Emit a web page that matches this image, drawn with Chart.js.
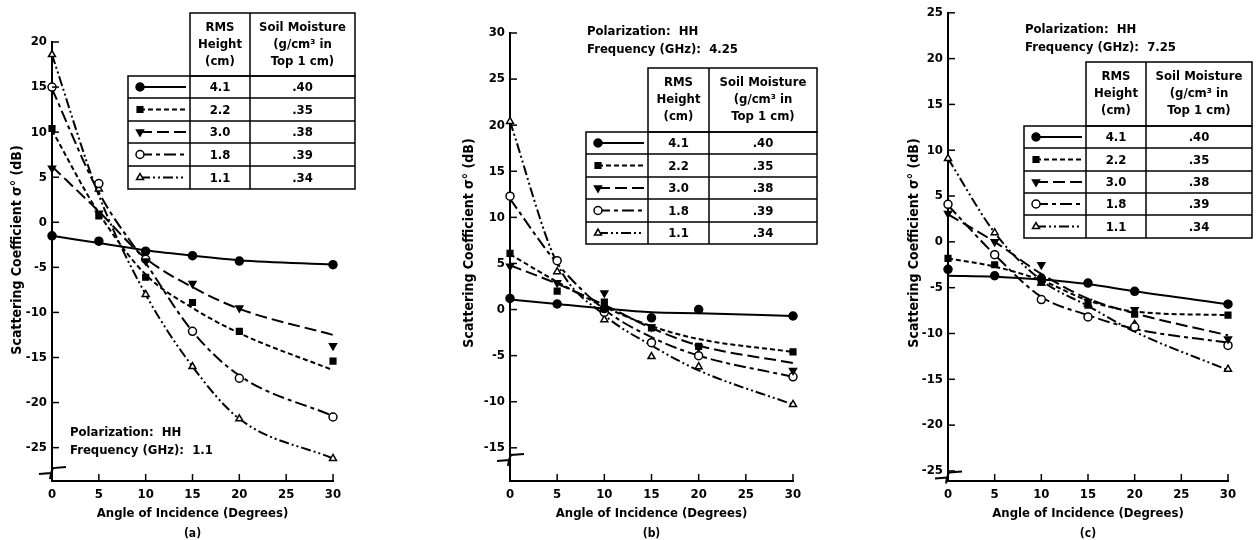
<!DOCTYPE html>
<html>
<head>
<meta charset="utf-8">
<script src="https://cdn.jsdelivr.net/npm/chart.js@4.4.1/dist/chart.umd.min.js"></script>
<style>
html, body { margin: 0; padding: 0; background: #fff; }
#wrap { position: relative; width: 1256px; height: 540px; overflow: hidden; }
.panel { position: absolute; top: 0; }
</style>
</head>
<body>
<div id="wrap">
  <div class="panel" style="left:0px"><canvas id="chartA" width="420" height="540"></canvas></div>
  <div class="panel" style="left:420px"><canvas id="chartB" width="420" height="540"></canvas></div>
  <div class="panel" style="left:840px"><canvas id="chartC" width="416" height="540"></canvas></div>
</div>
<script>
// angles where the measurements were taken
const angles = [0, 5, 10, 15, 20, 30];
const xTicks = [0, 5, 10, 15, 20, 25, 30];

// legend table
const rmsHeight    = ['4.1', '2.2', '3.0', '1.8', '1.1'];
const soilMoisture = ['.40', '.35', '.38', '.39', '.34'];

// (a) 1.1 GHz  -- markers and the drawn curves
const a41pts = [-1.5, -2.1, -3.2, -3.7, -4.3, -4.7];
const a41fit = [-1.5, -2.3, -3.1, -3.7, -4.2, -4.7];
const a22pts = [10.4, 0.7, -6.1, -8.9, -12.1, -15.4];
const a22fit = [10.2, 1.0, -5.8, -9.5, -12.3, -16.4];
const a30pts = [6.0, 1.0, -4.3, -6.8, -9.5, -13.7];
const a30fit = [6.2, 1.2, -4.0, -7.2, -9.6, -12.5];
const a18pts = [15.0, 4.3, -4.1, -12.1, -17.3, -21.6];
const a18fit = [14.8, 3.3, -4.5, -12.1, -17.0, -21.5];
const a11pts = [18.6, 3.7, -8.0, -16.0, -21.8, -26.2];
const a11fit = [18.6, 3.0, -8.0, -16.0, -21.8, -26.2];

// (b) 4.25 GHz
const b41pts = [1.2, 0.6, 0.1, -0.9, 0.0, -0.7];
const b41fit = [1.1, 0.6, 0.1, -0.3, -0.4, -0.7];
const b22pts = [6.1, 2.0, 0.8, -2.0, -4.0, -4.6];
const b22fit = [6.0, 3.0, 0.3, -1.8, -3.2, -4.6];
const b30pts = [4.7, 2.9, 1.8, -1.9, -4.1, -6.6];
const b30fit = [4.8, 2.8, 0.5, -2.0, -3.9, -5.8];
const b18pts = [12.3, 5.3, -0.3, -3.6, -5.0, -7.3];
const b18fit = [12.0, 5.0, 0.0, -3.0, -5.0, -7.3];
const b11pts = [20.4, 4.1, -1.1, -5.1, -6.2, -10.3];
const b11fit = [20.4, 5.0, -0.6, -3.9, -6.6, -10.3];

// (c) 7.25 GHz
const c41pts = [-3.0, -3.7, -4.0, -4.5, -5.4, -6.8];
const c41fit = [-3.7, -3.8, -4.1, -4.6, -5.4, -6.8];
const c22pts = [-1.8, -2.5, -4.4, -6.9, -7.9, -8.0];
const c22fit = [-1.8, -2.7, -4.2, -6.4, -7.6, -8.0];
const c30pts = [3.1, 0.0, -2.5, -6.5, -7.4, -10.6];
const c30fit = [3.0, 0.0, -3.5, -6.2, -7.8, -10.2];
const c18pts = [4.1, -1.4, -6.3, -8.2, -9.3, -11.3];
const c18fit = [4.0, -1.4, -6.0, -8.0, -9.5, -11.0];
const c11pts = [9.1, 1.0, -4.5, -6.8, -9.0, -13.9];
const c11fit = [9.1, 1.0, -4.2, -7.0, -9.8, -14.0];

const FONT = "'DejaVu Sans Condensed', 'Liberation Sans Narrow', sans-serif";

// marker / line style of each surface, in legend order
const SERIES = [
    { style: 'circle',   rot: 0,   fill: '#000', dash: [] },
    { style: 'rect',     rot: 0,   fill: '#000', dash: [5, 3] },
    { style: 'triangle', rot: 180, fill: '#000', dash: [12, 5] },
    { style: 'circle',   rot: 0,   fill: '#fff', dash: [12, 4, 4, 4] },
    { style: 'triangle', rot: 0,   fill: '#fff', dash: [10, 3, 2, 3, 2, 3] }
];

const panels = [
    {
        id: 'chartA', off: 0, w: 420,
        area: { left: 52, right: 333, top: 42, bottom: 481 },
        yMin: -28.7, yMax: 20,
        pts: [a41pts, a22pts, a30pts, a18pts, a11pts],
        fit: [a41fit, a22fit, a30fit, a18fit, a11fit],
        table: { cols: [128, 190, 250, 355], top: 13, rows: [76, 98, 121, 143, 166, 189] },
        note: { x: 70, y: 433 }, freq: '1.1',
        yTitleX: 17, yTitleY: 250, caption: '(a)', breakAt: -27.6
    },
    {
        id: 'chartB', off: 420, w: 420,
        area: { left: 510, right: 793, top: 33, bottom: 481 },
        yMin: -18.6, yMax: 30,
        pts: [b41pts, b22pts, b30pts, b18pts, b11pts],
        fit: [b41fit, b22fit, b30fit, b18fit, b11fit],
        table: { cols: [586, 648, 709, 817], top: 68, rows: [132, 154, 177, 199, 222, 244] },
        note: { x: 587, y: 32 }, freq: '4.25',
        yTitleX: 469, yTitleY: 243, caption: '(b)', breakAt: -16.1
    },
    {
        id: 'chartC', off: 840, w: 416,
        area: { left: 948, right: 1228, top: 10, bottom: 481 },
        yMin: -26.1, yMax: 25,
        pts: [c41pts, c22pts, c30pts, c18pts, c11pts],
        fit: [c41fit, c22fit, c30fit, c18fit, c11fit],
        table: { cols: [1024, 1086, 1146, 1252], top: 62, rows: [126, 148, 171, 193, 215, 238] },
        note: { x: 1025, y: 30 }, freq: '7.25',
        yTitleX: 914, yTitleY: 243, caption: '(c)', breakAt: -25.5
    }
];

const Y_AXIS_W = 46;
const X_AXIS_H = 24;

function line(ctx, x1, y1, x2, y2) {
    ctx.beginPath();
    ctx.moveTo(x1, y1);
    ctx.lineTo(x2, y2);
    ctx.stroke();
}

function drawTable(ctx, p) {
    const t = p.table;
    const [x0, x1, x2, x3] = t.cols.map(v => v - p.off);
    const r = t.rows;
    const last = r[r.length - 1];
    ctx.lineWidth = 1.5;
    ctx.setLineDash([]);
    ctx.strokeRect(x1, t.top, x3 - x1, r[0] - t.top);
    line(ctx, x2, t.top, x2, r[0]);
    ctx.strokeRect(x0, r[0], x3 - x0, last - r[0]);
    for (let i = 1; i < r.length - 1; i++) line(ctx, x0, r[i], x3, r[i]);
    line(ctx, x1, r[0], x1, last);
    line(ctx, x2, r[0], x2, last);

    ctx.font = 'bold 13px ' + FONT;
    ctx.textAlign = 'center';
    ctx.textBaseline = 'middle';
    const hx1 = (x1 + x2) / 2, hx2 = (x2 + x3) / 2;
    ctx.fillText('RMS', hx1, t.top + 15);
    ctx.fillText('Height', hx1, t.top + 32);
    ctx.fillText('(cm)', hx1, t.top + 49);
    ctx.fillText('Soil Moisture', hx2, t.top + 15);
    ctx.fillText('(g/cm³ in', hx2, t.top + 32);
    ctx.fillText('Top 1 cm)', hx2, t.top + 49);

    SERIES.forEach((s, i) => {
        const yc = (r[i] + r[i + 1]) / 2;
        ctx.lineWidth = 2;
        ctx.setLineDash(s.dash);
        line(ctx, x0 + 12, yc, x1 - 4, yc);
        ctx.setLineDash([]);
        ctx.lineWidth = 1.5;
        ctx.fillStyle = s.fill;
        Chart.helpers.drawPoint(ctx, { pointStyle: s.style, rotation: s.rot, radius: 4, borderWidth: 1.5 }, x0 + 12, yc);
        ctx.fillStyle = '#000';
        ctx.fillText(rmsHeight[i], hx1, yc + 1);
        ctx.fillText(soilMoisture[i], hx2, yc + 1);
    });
}

const decor = {
    id: 'decor',
    afterDraw(chart, args, opts) {
        const p = opts.panel;
        const ctx = chart.ctx;
        const xs = chart.scales.x, ys = chart.scales.y;
        const a = chart.chartArea;
        ctx.save();
        ctx.strokeStyle = '#000';
        ctx.fillStyle = '#000';
        ctx.lineWidth = 1.5;

        // tick marks point into the plot
        ys.ticks.forEach(t => {
            const y = ys.getPixelForValue(t.value);
            line(ctx, a.left, y, a.left + 7, y);
        });
        xs.ticks.forEach(t => {
            if (t.value === 0) return;
            const x = xs.getPixelForValue(t.value);
            line(ctx, x, a.bottom, x, a.bottom - 7);
        });

        // axis break
        const by = ys.getPixelForValue(p.breakAt);
        ctx.lineWidth = 2;
        ctx.beginPath();
        ctx.moveTo(a.left - 13, by + 3);
        ctx.lineTo(a.left - 1, by + 2);
        ctx.lineTo(a.left + 1, by - 3);
        ctx.lineTo(a.left + 14, by - 4);
        ctx.stroke();
        ctx.beginPath();
        ctx.moveTo(a.left - 1, by + 2);
        ctx.lineTo(a.left - 2, by + 8);
        ctx.stroke();

        // axis titles and caption
        ctx.font = 'bold 13px ' + FONT;
        ctx.textAlign = 'center';
        ctx.textBaseline = 'middle';
        const cx = (a.left + a.right) / 2;
        ctx.fillText('Angle of Incidence (Degrees)', cx, 514);
        ctx.font = 'bold 12px ' + FONT;
        ctx.fillText(p.caption, cx, 534);

        ctx.save();
        ctx.font = 'bold 14px ' + FONT;
        ctx.translate(p.yTitleX - p.off, p.yTitleY);
        ctx.rotate(-Math.PI / 2);
        ctx.fillText('Scattering Coefficient σ° (dB)', 0, 0);
        ctx.restore();

        // polarization note
        ctx.font = 'bold 13px ' + FONT;
        ctx.textAlign = 'left';
        ctx.fillText('Polarization:  HH', p.note.x - p.off, p.note.y);
        ctx.fillText('Frequency (GHz):  ' + p.freq, p.note.x - p.off, p.note.y + 18);

        drawTable(ctx, p);
        ctx.restore();
    }
};

function toXY(vals) {
    return vals.map((v, i) => ({ x: angles[i], y: v }));
}

panels.forEach(p => {
    const datasets = [];
    SERIES.forEach((s, i) => {
        datasets.push({
            data: toXY(p.pts[i]),
            showLine: false,
            pointStyle: s.style,
            rotation: s.rot,
            pointRadius: 4,
            pointBorderWidth: 1.5,
            pointBackgroundColor: s.fill,
            pointBorderColor: '#000',
            clip: false
        });
    });
    SERIES.forEach((s, i) => {
        datasets.push({
            data: toXY(p.fit[i]),
            showLine: true,
            pointRadius: 0,
            borderColor: '#000',
            borderWidth: 2,
            borderDash: s.dash,
            cubicInterpolationMode: 'monotone',
            clip: false
        });
    });

    new Chart(document.getElementById(p.id), {
        type: 'scatter',
        data: { datasets: datasets },
        options: {
            responsive: false,
            animation: false,
            layout: {
                padding: {
                    left: p.area.left - p.off - Y_AXIS_W,
                    right: p.w - (p.area.right - p.off),
                    top: p.area.top,
                    bottom: 540 - p.area.bottom - X_AXIS_H
                }
            },
            plugins: {
                legend: { display: false },
                tooltip: { enabled: false },
                decor: { panel: p }
            },
            scales: {
                x: {
                    type: 'linear',
                    min: 0,
                    max: 30,
                    afterFit: s => { s.height = X_AXIS_H; },
                    afterBuildTicks: s => { s.ticks = xTicks.map(v => ({ value: v })); },
                    ticks: { color: '#000', padding: 6, font: { family: FONT, size: 13, weight: 'bold' } },
                    grid: { display: true, drawOnChartArea: false, drawTicks: false },
                    border: { display: true, color: '#000', width: 2 }
                },
                y: {
                    min: p.yMin,
                    max: p.yMax,
                    afterFit: s => { s.width = Y_AXIS_W; },
                    ticks: { stepSize: 5, includeBounds: false, color: '#000', padding: 5, font: { family: FONT, size: 13, weight: 'bold' } },
                    grid: { display: true, drawOnChartArea: false, drawTicks: false },
                    border: { display: true, color: '#000', width: 2 }
                }
            }
        },
        plugins: [decor]
    });
});
</script>
</body>
</html>
